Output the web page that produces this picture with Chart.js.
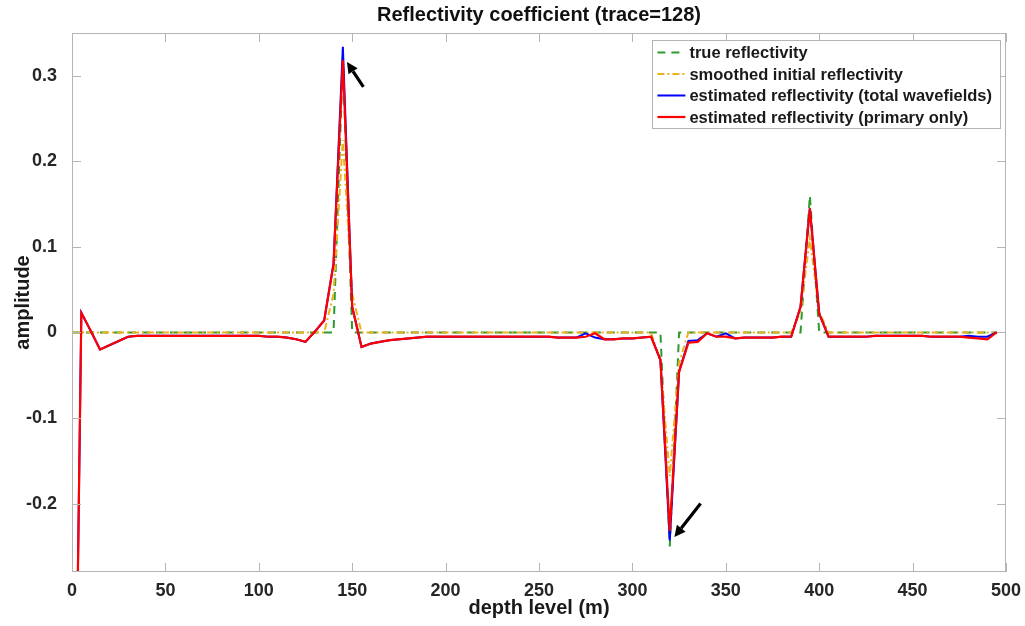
<!DOCTYPE html>
<html>
<head>
<meta charset="utf-8">
<script src="https://cdn.jsdelivr.net/npm/chart.js@4.4.1/dist/chart.umd.min.js"></script>
<style>
  html, body { margin: 0; padding: 0; background: #fff; }
  #wrap { width: 1025px; height: 626px; }
</style>
</head>
<body>
<div id="wrap"><canvas id="line-chart" width="1025" height="626"></canvas></div>
<script>
// depth levels (m)
const depth = [
  0, 5, 10, 15, 20, 25, 30, 35, 40, 45,
  50, 55, 60, 65, 70, 75, 80, 85, 90, 95,
  100, 105, 110, 115, 120, 125, 130, 135, 140, 145,
  150, 155, 160, 165, 170, 175, 180, 185, 190, 195,
  200, 205, 210, 215, 220, 225, 230, 235, 240, 245,
  250, 255, 260, 265, 270, 275, 280, 285, 290, 295,
  300, 305, 310, 315, 320, 325, 330, 335, 340, 345,
  350, 355, 360, 365, 370, 375, 380, 385, 390, 395,
  400, 405, 410, 415, 420, 425, 430, 435, 440, 445,
  450, 455, 460, 465, 470, 475, 480, 485, 490, 495
];

const trueRefl = [
  0, 0, 0, 0, 0, 0, 0, 0, 0, 0,
  0, 0, 0, 0, 0, 0, 0, 0, 0, 0,
  0, 0, 0, 0, 0, 0, 0, 0, 0, 0.32,
  0, 0, 0, 0, 0, 0, 0, 0, 0, 0,
  0, 0, 0, 0, 0, 0, 0, 0, 0, 0,
  0, 0, 0, 0, 0, 0, 0, 0, 0, 0,
  0, 0, 0, 0, -0.25, 0, 0, 0, 0, 0,
  0, 0, 0, 0, 0, 0, 0, 0, 0, 0.16,
  0, 0, 0, 0, 0, 0, 0, 0, 0, 0,
  0, 0, 0, 0, 0, 0, 0, 0, 0, 0
];

const smoothRefl = [
  0, 0, 0, 0, 0, 0, 0, 0, 0, 0,
  0, 0, 0, 0, 0, 0, 0, 0, 0, 0,
  0, 0, 0, 0, 0, 0, 0, 0, 0.045, 0.225,
  0.045, 0, 0, 0, 0, 0, 0, 0, 0, 0,
  0, 0, 0, 0, 0, 0, 0, 0, 0, 0,
  0, 0, 0, 0, 0, 0, 0, 0, 0, 0,
  0, 0, 0, -0.035, -0.168, -0.035, 0, 0, 0, 0,
  0, 0, 0, 0, 0, 0, 0, 0, 0.024, 0.11,
  0.024, 0, 0, 0, 0, 0, 0, 0, 0, 0,
  0, 0, 0, 0, 0, 0, 0, 0, 0, 0
];

const estTotal = [
  -0.8, 0.023, 0.002, -0.02, -0.015, -0.01, -0.005, -0.004, -0.004, -0.004,
  -0.004, -0.004, -0.004, -0.004, -0.004, -0.004, -0.004, -0.004, -0.004, -0.004,
  -0.004, -0.005, -0.005, -0.006, -0.008, -0.011, 0.001, 0.014, 0.08, 0.334,
  0.03, -0.017, -0.013, -0.011, -0.009, -0.008, -0.007, -0.006, -0.005, -0.005,
  -0.005, -0.005, -0.005, -0.005, -0.005, -0.005, -0.005, -0.005, -0.005, -0.005,
  -0.005, -0.005, -0.006, -0.006, -0.006, -0.001, -0.006, -0.008, -0.008, -0.007,
  -0.007, -0.006, -0.005, -0.032, -0.243, -0.046, -0.01, -0.009, -0.001, -0.005,
  -0.001, -0.007, -0.006, -0.006, -0.006, -0.006, -0.005, -0.005, 0.03, 0.145,
  0.022, -0.005, -0.005, -0.005, -0.005, -0.005, -0.004, -0.004, -0.004, -0.004,
  -0.004, -0.004, -0.005, -0.005, -0.005, -0.005, -0.004, -0.005, -0.005, 0
];

const estPrimary = [
  -0.8, 0.023, 0.002, -0.02, -0.015, -0.01, -0.005, -0.004, -0.004, -0.004,
  -0.004, -0.004, -0.004, -0.004, -0.004, -0.004, -0.004, -0.004, -0.004, -0.004,
  -0.004, -0.005, -0.005, -0.006, -0.008, -0.011, 0.001, 0.014, 0.08, 0.318,
  0.03, -0.017, -0.013, -0.011, -0.009, -0.008, -0.007, -0.006, -0.005, -0.005,
  -0.005, -0.005, -0.005, -0.005, -0.005, -0.005, -0.005, -0.005, -0.005, -0.005,
  -0.005, -0.005, -0.006, -0.006, -0.006, -0.005, -0.001, -0.008, -0.008, -0.007,
  -0.007, -0.006, -0.005, -0.032, -0.232, -0.046, -0.012, -0.011, -0.001, -0.005,
  -0.005, -0.007, -0.006, -0.006, -0.006, -0.006, -0.005, -0.005, 0.03, 0.145,
  0.022, -0.005, -0.005, -0.005, -0.005, -0.005, -0.004, -0.004, -0.004, -0.004,
  -0.004, -0.004, -0.005, -0.005, -0.005, -0.005, -0.006, -0.007, -0.008, 0
];

const xTicks = [0, 50, 100, 150, 200, 250, 300, 350, 400, 450, 500];
const yTicks = [-0.2, -0.1, 0, 0.1, 0.2, 0.3];

// arrows pointing at the estimated peaks, in data units
const arrows = [
  { from: [156, 0.287], to: [147.2, 0.316] },
  { from: [336.5, -0.2], to: [322.5, -0.239] }
];

const titleText = "Reflectivity coefficient (trace=128)";
const FONT = '"Liberation Sans", Arial, Helvetica, sans-serif';
const AXIS_GRAY = "#b4b4b4";

function pts(vals) {
  return depth.map((d, i) => ({ x: d, y: vals[i] }));
}

const axesBox = {
  id: "axesBox",
  afterDatasetsDraw(chart) {
    const { ctx, chartArea: a, scales: { x, y } } = chart;
    ctx.save();
    ctx.strokeStyle = AXIS_GRAY;
    ctx.lineWidth = 1;
    ctx.beginPath();
    x.ticks.forEach(t => {
      const px = Math.round(x.getPixelForValue(t.value)) + 0.5;
      ctx.moveTo(px, a.bottom); ctx.lineTo(px, a.bottom - 9);
      ctx.moveTo(px, a.top); ctx.lineTo(px, a.top + 9);
    });
    y.ticks.forEach(t => {
      const py = Math.round(y.getPixelForValue(t.value)) + 0.5;
      ctx.moveTo(a.left, py); ctx.lineTo(a.left + 9, py);
      ctx.moveTo(a.right, py); ctx.lineTo(a.right - 9, py);
    });
    ctx.stroke();
    ctx.strokeRect(Math.round(a.left) + 0.5, Math.round(a.top) + 0.5,
      Math.round(a.width) - 1, Math.round(a.height) - 1);
    ctx.restore();
  },
  afterDraw(chart) {
    const { ctx, chartArea: a, scales: { x, y } } = chart;
    ctx.save();

    // title
    ctx.fillStyle = "#111";
    ctx.font = "bold 20px " + FONT;
    ctx.textAlign = "center";
    ctx.textBaseline = "middle";
    ctx.fillText(titleText, (a.left + a.right) / 2, 15);

    // arrows
    ctx.strokeStyle = "#000";
    ctx.fillStyle = "#000";
    ctx.lineWidth = 3.2;
    arrows.forEach(ar => {
      const x0 = x.getPixelForValue(ar.from[0]), y0 = y.getPixelForValue(ar.from[1]);
      const x1 = x.getPixelForValue(ar.to[0]), y1 = y.getPixelForValue(ar.to[1]);
      const ang = Math.atan2(y1 - y0, x1 - x0);
      const head = 11, half = 5.5;
      const bx = x1 - head * Math.cos(ang), by = y1 - head * Math.sin(ang);
      ctx.beginPath(); ctx.moveTo(x0, y0); ctx.lineTo(bx, by); ctx.stroke();
      ctx.beginPath();
      ctx.moveTo(x1, y1);
      ctx.lineTo(bx + half * Math.sin(ang), by - half * Math.cos(ang));
      ctx.lineTo(bx - half * Math.sin(ang), by + half * Math.cos(ang));
      ctx.closePath();
      ctx.fill();
    });

    // legend
    const ds = chart.data.datasets;
    ctx.font = "bold 16.5px " + FONT;
    ctx.textAlign = "left";
    const tw = Math.max(...ds.map(d => ctx.measureText(d.label).width));
    const rowH = 21.5;
    const w = 37 + tw + 8, h = ds.length * rowH + 2;
    const right = a.right - 6, top = a.top + 7;
    const left = right - w;
    ctx.fillStyle = "#fff";
    ctx.fillRect(left, top, w, h);
    ctx.strokeStyle = AXIS_GRAY;
    ctx.lineWidth = 1;
    ctx.strokeRect(Math.round(left) + 0.5, Math.round(top) + 0.5, Math.round(w), Math.round(h));
    ds.forEach((d, i) => {
      const cy = top + 12.5 + i * rowH;
      ctx.strokeStyle = d.borderColor;
      ctx.lineWidth = d.borderWidth;
      ctx.setLineDash(d.borderDash || []);
      ctx.beginPath();
      ctx.moveTo(left + 5, cy);
      ctx.lineTo(left + 33, cy);
      ctx.stroke();
      ctx.setLineDash([]);
      ctx.fillStyle = "#1a1a1a";
      ctx.textBaseline = "middle";
      ctx.fillText(d.label, left + 37, cy + 1);
    });
    ctx.restore();
  }
};

new Chart(document.getElementById("line-chart"), {
  type: "line",
  data: {
    datasets: [
      {
        label: "true reflectivity",
        data: pts(trueRefl),
        borderColor: "#2e9a2e",
        borderWidth: 2,
        borderDash: [8, 6],
        order: 4
      },
      {
        label: "smoothed initial reflectivity",
        data: pts(smoothRefl),
        borderColor: "#edb120",
        borderWidth: 2,
        borderDash: [7, 3, 2, 3],
        order: 3
      },
      {
        label: "estimated reflectivity (total wavefields)",
        data: pts(estTotal),
        borderColor: "#0000ff",
        borderWidth: 2,
        order: 2
      },
      {
        label: "estimated reflectivity (primary only)",
        data: pts(estPrimary),
        borderColor: "#ff0000",
        borderWidth: 2.2,
        order: 1
      }
    ]
  },
  options: {
    responsive: false,
    animation: false,
    layout: { padding: { top: 33, right: 19, left: 0, bottom: 0 } },
    elements: {
      point: { radius: 0 },
      line: { tension: 0, fill: false }
    },
    plugins: {
      legend: { display: false },
      tooltip: { enabled: false },
      title: { display: false }
    },
    scales: {
      x: {
        type: "linear",
        min: 0,
        max: 500,
        afterBuildTicks: s => { s.ticks = xTicks.map(v => ({ value: v })); },
        afterFit: s => { s.height = 54; },
        grid: { display: false },
        border: { display: false },
        ticks: {
          padding: 0,
          color: "#262626",
          font: { family: FONT, size: 18, weight: "bold" },
          maxRotation: 0
        },
        title: {
          display: true,
          text: "depth level (m)",
          color: "#1a1a1a",
          font: { family: FONT, size: 20, weight: "bold" },
          padding: { top: 0, bottom: 6 }
        }
      },
      y: {
        type: "linear",
        min: -0.28,
        max: 0.35,
        afterBuildTicks: s => { s.ticks = yTicks.map(v => ({ value: v })); },
        afterFit: s => { s.width = 72; },
        grid: { display: false },
        border: { display: false },
        ticks: {
          padding: 7,
          color: "#262626",
          font: { family: FONT, size: 18, weight: "bold" },
          callback: v => String(+Number(v).toFixed(1))
        },
        title: {
          display: true,
          text: "amplitude",
          color: "#1a1a1a",
          font: { family: FONT, size: 20, weight: "bold" },
          padding: { top: 11, bottom: 0 }
        }
      }
    }
  },
  plugins: [axesBox]
});
</script>
</body>
</html>
